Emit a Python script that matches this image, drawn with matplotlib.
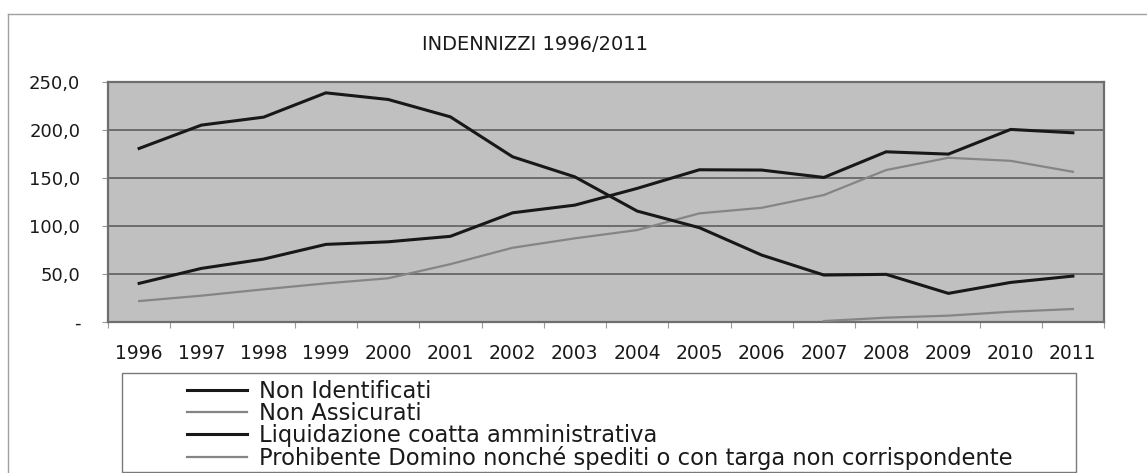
import matplotlib
matplotlib.use('Agg')
import matplotlib.pyplot as plt
import numpy as np
from matplotlib.lines import Line2D
from matplotlib.patches import Rectangle

# ---- data ----
years = ['1996', '1997', '1998', '1999', '2000', '2001', '2002', '2003',
         '2004', '2005', '2006', '2007', '2008', '2009', '2010', '2011']
non_identificati = [40.0, 55.6, 65.3, 80.6, 83.3, 89.0, 113.5, 121.5,
                    138.9, 158.3, 158.0, 150.3, 177.0, 174.6, 200.3, 196.8]
non_assicurati = [21.6, 27.2, 33.8, 40.0, 45.3, 60.0, 77.1, 86.9,
                  95.5, 112.9, 118.7, 132.0, 158.0, 170.8, 167.6, 156.2]
liquidazione = [180.5, 204.8, 213.1, 238.4, 231.5, 213.4, 171.8, 150.9,
                115.3, 98.0, 69.5, 48.7, 49.4, 29.6, 41.0, 47.6]
prohibente = [np.nan] * 11 + [0.8, 4.3, 6.4, 10.5, 13.3]

series_names = ['Non Identificati', 'Non Assicurati',
                'Liquidazione coatta amministrativa',
                'Prohibente Domino nonché spediti o con targa non corrispondente']
series_values = [non_identificati, non_assicurati, liquidazione, prohibente]
series_colors = ['#181818', '#858585', '#181818', '#858585']
series_widths = [2.2, 1.6, 2.2, 1.6]

y_ticks = [0, 50, 100, 150, 200, 250]
y_tick_labels = ['-', '50,0', '100,0', '150,0', '200,0', '250,0']
title = 'INDENNIZZI 1996/2011'

# ---- figure ----
W, H = 1147, 473
fig = plt.figure(figsize=(W / 100, H / 100), dpi=100)
fig.patch.set_facecolor('white')

def fx(px):
    return px / W

def fy(py):
    return (H - py) / H

ax_left, ax_right, ax_top, ax_bottom = 108, 1104, 81.7, 321.8
ax = fig.add_axes([fx(ax_left), fy(ax_bottom),
                   (ax_right - ax_left) / W, (ax_bottom - ax_top) / H])
ax.set_facecolor('#c0c0c0')

x = np.arange(len(years))
for vals, col, lw in zip(series_values, series_colors, series_widths):
    ax.plot(x, vals, color=col, lw=lw, solid_joinstyle='miter', zorder=3)

ax.set_xlim(-0.485, 15.43)
ax.set_ylim(0, 250)
ax.set_yticks(y_ticks)
ax.set_yticklabels(y_tick_labels)
ax.set_xticks(x)
ax.set_xticklabels(years)
ax.set_xticks(np.arange(len(years) + 1) - 0.5, minor=True)

ax.tick_params(axis='x', which='major', length=0, pad=16, labelsize=13.5,
               labelcolor='#1a1a1a')
ax.tick_params(axis='x', which='minor', length=4, width=0.8, color='#9a9a9a',
               direction='out')
ax.tick_params(axis='y', which='major', length=4, width=0.8, color='#9a9a9a',
               pad=16, labelsize=13, labelcolor='#1a1a1a')

ax.yaxis.grid(True, color='#5e5e5e', lw=1.2)
ax.set_axisbelow(True)
for sp in ax.spines.values():
    sp.set_color('#6e6e6e')
    sp.set_linewidth(1.6)

# ---- title ----
fig.text(fx(535), fy(50), title, ha='center', va='baseline', fontsize=14,
         color='#1a1a1a')

# ---- outer frame (top and left edges) ----
fig.add_artist(Line2D([fx(8), fx(W)], [fy(14), fy(14)], color='#a0a0a0',
                      lw=1.0, transform=fig.transFigure))
fig.add_artist(Line2D([fx(8), fx(8)], [fy(14), fy(H)], color='#a0a0a0',
                      lw=1.0, transform=fig.transFigure))

# ---- legend (drawn manually) ----
lx0, lx1, ly0, ly1 = 121.7, 1076.3, 372.5, 471.7
fig.add_artist(Rectangle((fx(lx0), fy(ly1)), (lx1 - lx0) / W, (ly1 - ly0) / H,
                         transform=fig.transFigure, facecolor='white',
                         edgecolor='#7a7a7a', lw=1.0))
row_y = [390.0, 412.2, 434.4, 456.6]
for name, col, lw, ry in zip(series_names, series_colors, series_widths, row_y):
    fig.add_artist(Line2D([fx(187.3), fx(246.7)], [fy(ry), fy(ry)], color=col,
                          lw=lw, transform=fig.transFigure))
    fig.text(fx(259.3), fy(ry + 8.0), name, ha='left', va='baseline',
             fontsize=16.3, color='#1a1a1a')

fig.savefig('out.png', dpi=100, facecolor='white')
